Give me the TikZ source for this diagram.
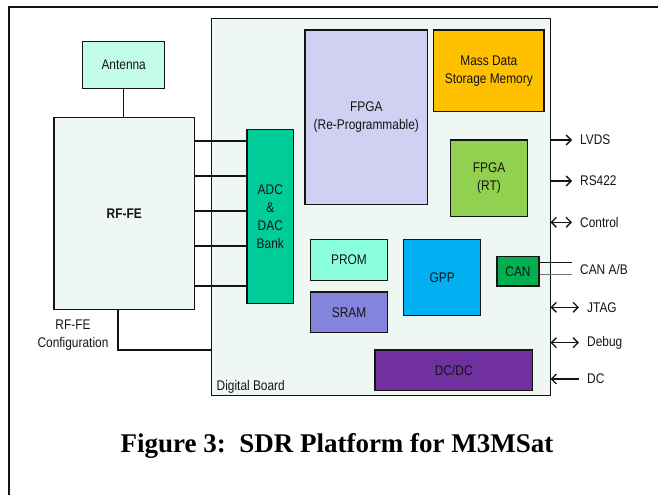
\documentclass[tikz,border=0pt]{standalone}
\usepackage{fontspec}
\setmainfont{Liberation Serif}
\newfontfamily\arialn[FakeStretch=0.85]{Liberation Sans}
\usepackage{tikz}
\usetikzlibrary{arrows.meta}

\definecolor{antfill}{RGB}{196,252,236}
\definecolor{pale}{RGB}{238,247,242}
\definecolor{adcfill}{RGB}{0,204,153}
\definecolor{fpgafill}{RGB}{208,208,242}
\definecolor{massfill}{RGB}{255,192,0}
\definecolor{rtfill}{RGB}{146,208,80}
\definecolor{promfill}{RGB}{138,255,222}
\definecolor{sramfill}{RGB}{132,132,220}
\definecolor{gppfill}{RGB}{0,176,240}
\definecolor{canfill}{RGB}{0,176,80}
\definecolor{dcfill}{RGB}{112,48,160}
\definecolor{ink}{RGB}{20,20,20}

\tikzset{
  >={Straight Barb[length=5pt,width=10pt]},
  blk/.style={draw=ink, line width=1.3pt, inner sep=0pt, align=center,
    text=ink, font={\arialn\fontsize{14}{18}\selectfont}},
  wire/.style={draw=ink, line width=1.3pt},
  sig/.style={anchor=west, inner xsep=8pt, inner ysep=1pt, text=ink,
    font={\arialn\fontsize{14}{18}\selectfont}},
  lbl/.style={inner sep=1pt, align=center, text=ink,
    font={\arialn\fontsize{14}{18}\selectfont}}
}

\begin{document}
\begin{tikzpicture}[x=1pt,y=-1pt]
\useasboundingbox (0,0) rectangle (658,495);
% outer frame
\draw [line width=1.2pt, ink] (9,495) |- (658,7);
% digital board
\node [blk, line width=1pt, fill=pale, minimum width=339, minimum height=376.7] (board) at (380.5,207.3) {};
\node [lbl, anchor=south west] (boardlbl) at ([xshift=5pt,yshift=2pt]board.south west) {Digital Board};
% radio side
\node [blk, fill=antfill, minimum width=82, minimum height=46.6] (antenna) at (123.7,65) {Antenna};
\node [blk, fill=pale, minimum width=140.3, minimum height=192, font={\arialn\bfseries\fontsize{14}{18}\selectfont}] (rffe) at (124.2,213.3) {RF-FE};
\node [blk, fill=adcfill, minimum width=46.7, minimum height=174.4] (adc) at (270.3,216.5) {ADC\\\&\\DAC\\Bank};
\node [lbl] (cfg) at (73,335) {RF-FE\\Configuration};
% parts on the board
\node [blk, fill=fpgafill, minimum width=122.7, minimum height=174.3] (fpga) at (366.3,117.2) {FPGA\\(Re-Programmable)};
\node [blk, fill=massfill, minimum width=110.3, minimum height=81.7] (mass) at (488.8,70.8) {Mass Data\\Storage Memory};
\node [blk, fill=rtfill, minimum width=76.6, minimum height=76.7] (fpgart) at (489,178.3) {FPGA\\(RT)};
\node [blk, fill=promfill, minimum width=76.6, minimum height=41.4] (prom) at (349,260) {PROM};
\node [blk, fill=sramfill, minimum width=76.6, minimum height=40.7] (sram) at (349,312.3) {SRAM};
\node [blk, fill=gppfill, minimum width=77, minimum height=76.4] (gpp) at (442.2,277.5) {GPP};
\node [blk, fill=canfill, minimum width=42, minimum height=29.3] (can) at (518,271.3) {CAN};
\node [blk, fill=dcfill, minimum width=157.7, minimum height=40.7] (dcdc) at (453.8,370.3) {DC/DC};
% external signals
\node [sig] (lvds) at (572,140) {LVDS};
\node [sig] (rs) at (572,181) {RS422};
\node [sig] (ctrl) at (572,222.3) {Control};
\node [sig] (canab) at (572,269) {CAN A/B};
\node [sig] (jtag) at (579,307.3) {JTAG};
\node [sig] (debug) at (579,342.7) {Debug};
\node [sig] (dc) at (579,379) {DC};
% connectors
\draw [wire] (antenna.south) -- (antenna.south |- rffe.north);
\foreach \y in {141,176,211,246,286}
  \draw [wire] (rffe.east |- 0,\y) -- (adc.west |- 0,\y);
\draw [wire] (rffe.south -| 118,0) |- (board.west |- 0,350);
\draw [wire] ([yshift=9pt]can.east) -- ([yshift=9pt]can.east -| canab.west);
\draw [wire, ink!60] ([yshift=-3pt]can.east) -- ([yshift=-3pt]can.east -| canab.west);
\draw [wire, ->] (board.east |- lvds) -- (lvds.west);
\draw [wire, ->] (board.east |- rs) -- (rs.west);
\draw [wire, <->] (board.east |- ctrl) -- (ctrl.west);
\draw [wire, <->] (board.east |- jtag) -- (jtag.west);
\draw [wire, <->] (board.east |- debug) -- (debug.west);
\draw [wire, <-] (board.east |- dc) -- (dc.west);
% caption
\node [inner sep=0pt, font={\bfseries\fontsize{27}{30}\selectfont}] (caption) at (337,446) {Figure 3:\ \ SDR Platform for M3MSat};
\end{tikzpicture}
\end{document}
